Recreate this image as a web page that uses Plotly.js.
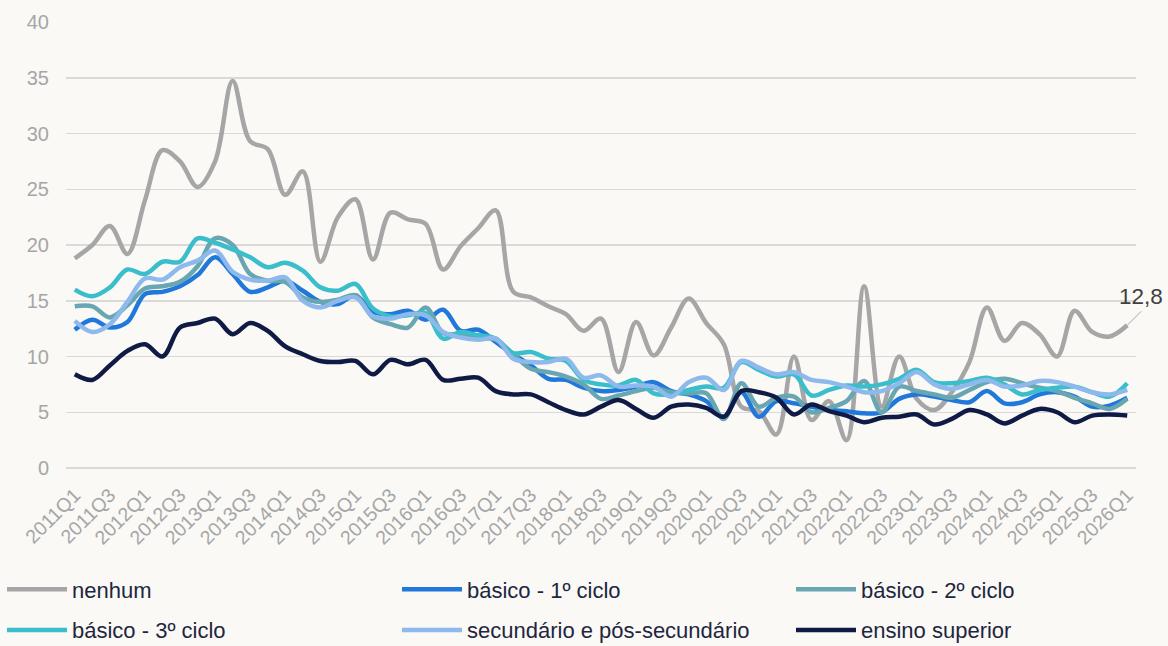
<!DOCTYPE html>
<html>
<head>
<meta charset="utf-8">
<script src="https://cdn.plot.ly/plotly-3.0.1.min.js"></script>
<style>
html,body{margin:0;padding:0;background:#FAF9F6;}
#chart{width:1168px;height:646px;}
</style>
</head>
<body>
<div id="chart"></div>
<script>
// Quarters 2011Q1 .. 2026Q1
const quarters = [];
for (let y = 2011; y <= 2026; y++) {
  for (let q = 1; q <= 4; q++) {
    if (y === 2026 && q > 1) break;
    quarters.push(y + "Q" + q);
  }
}
const tickLabels = quarters.filter((q, i) => i % 2 === 0);

const seriesNames = ["nenhum", "básico - 1º ciclo", "básico - 2º ciclo", "básico - 3º ciclo", "secundário e pós-secundário", "ensino superior"];

const nenhum = [18.8,20.0,21.7,19.2,24.0,28.5,27.5,25.2,27.5,34.7,29.3,28.6,24.5,26.6,18.5,22.5,24.1,18.7,22.9,22.3,21.9,17.8,19.9,21.5,23.1,15.8,15.3,14.5,13.8,12.3,13.4,8.6,13.1,10.1,12.6,15.2,13.0,11.1,5.5,5.1,3.0,10.0,4.3,6.0,2.5,16.3,5.5,10.0,6.2,5.2,6.8,9.5,14.4,11.4,13.0,12.0,10.0,14.1,12.2,11.8,12.8];
const basico1 = [12.4,13.3,12.6,13.1,15.6,15.8,16.3,17.3,18.9,17.4,15.8,16.2,16.8,15.9,14.9,14.7,15.5,14.0,13.8,14.1,13.3,14.2,12.3,12.4,11.3,10.2,9.2,8.0,7.9,7.2,6.9,7.0,7.3,7.7,6.9,6.6,6.0,4.6,6.8,4.6,6.0,5.8,5.5,5.2,5.1,4.9,5.0,6.2,6.6,6.4,6.1,5.9,6.9,5.8,5.9,6.6,6.8,6.4,5.5,5.6,6.3];
const basico2 = [14.5,14.5,13.5,14.6,16.1,16.3,16.7,18.1,20.6,20.0,17.4,16.8,16.7,15.3,14.9,15.1,15.5,13.5,12.9,12.6,14.4,12.1,12.0,11.7,11.5,10.2,8.9,8.6,8.2,7.5,6.2,6.5,6.9,7.2,6.8,6.7,6.7,4.4,7.6,5.5,6.3,6.4,5.0,5.4,6.0,7.8,5.0,7.3,6.9,6.6,6.3,7.0,7.7,8.0,7.6,7.2,6.9,6.3,5.8,5.3,6.2];
const basico3 = [16.0,15.4,16.2,17.8,17.4,18.5,18.5,20.6,20.2,19.6,18.9,18.0,18.4,17.7,16.2,15.9,16.5,14.3,13.6,13.7,13.9,11.6,12.2,11.9,11.6,10.3,10.4,9.8,9.6,7.9,7.5,7.4,7.9,6.7,6.6,7.0,7.3,7.2,9.5,8.8,8.2,8.4,6.5,7.0,7.4,7.3,7.5,8.0,8.8,7.7,7.6,7.8,8.1,7.5,6.6,7.0,7.2,7.3,6.8,6.4,7.6];
const secundario = [13.2,12.2,12.9,14.9,17.0,16.9,18.0,18.6,19.5,17.6,16.9,16.8,17.1,15.0,14.4,15.0,15.3,13.6,13.4,13.8,13.7,12.2,11.7,11.5,11.6,9.8,9.5,9.5,9.8,8.1,8.3,7.3,7.4,7.3,6.4,7.7,8.1,7.0,9.6,9.0,8.4,8.6,7.9,7.7,7.3,6.8,6.9,7.6,8.6,7.5,7.1,7.5,7.9,7.3,7.4,7.8,7.7,7.3,6.8,6.6,7.0];
const superior = [8.4,7.9,9.2,10.5,11.1,10.0,12.6,13.0,13.4,12.0,13.0,12.3,10.9,10.2,9.6,9.5,9.6,8.4,9.7,9.3,9.7,7.9,8.0,8.1,6.9,6.6,6.6,5.9,5.2,4.8,5.5,6.1,5.3,4.5,5.5,5.7,5.4,4.6,6.9,6.8,6.3,4.8,5.7,5.1,4.7,4.1,4.5,4.6,4.8,3.9,4.4,5.2,4.8,4.0,4.7,5.3,5.0,4.1,4.7,4.8,4.7];

const allSeries = [nenhum, basico1, basico2, basico3, secundario, superior];
const colors = ["#A6A6A6", "#1F78DA", "#68A6B1", "#3BBECB", "#8DB9EC", "#0F1B45"];
// legend column for each series (3 columns x 2 rows, as in the reference)
const legendIds = ["legend", "legend2", "legend3", "legend", "legend2", "legend3"];

const traces = allSeries.map((vals, k) => ({
  type: "scatter",
  mode: "lines",
  name: seriesNames[k],
  x: quarters,
  y: vals,
  legend: legendIds[k],
  legendgroup: "g" + k,
  line: {color: colors[k], width: 4.5, shape: "spline", smoothing: 1},
  hoverinfo: "x+y+name"
}));

const lastIdx = quarters.length - 1;

function legendCol(xpx) {
  return {
    orientation: "v",
    xref: "container",
    yref: "container",
    x: xpx / 1168,
    y: 0.12,
    xanchor: "left",
    yanchor: "top",
    font: {size: 22, color: "#1E2640"},
    bgcolor: "rgba(0,0,0,0)",
    tracegroupgap: 9,
    itemwidth: 60
  };
}

const layout = {
  width: 1168,
  height: 646,
  paper_bgcolor: "#FAF9F6",
  plot_bgcolor: "#FAF9F6",
  font: {family: "Liberation Sans, Arial, sans-serif", color: "#A6A6A6"},
  margin: {l: 66, r: 32, t: 22, b: 178, autoexpand: false},
  showlegend: true,
  xaxis: {
    type: "category",
    range: [-0.5, quarters.length - 0.5],
    tickmode: "array",
    tickvals: tickLabels,
    ticktext: tickLabels,
    tickangle: -45,
    tickfont: {size: 19.5, color: "#A6A6A6"},
    ticklabelstandoff: 11,
    showgrid: false,
    showline: false,
    zeroline: false,
    ticks: "",
    automargin: false,
    fixedrange: true
  },
  yaxis: {
    range: [0, 40],
    dtick: 5,
    tick0: 0,
    tickfont: {size: 20, color: "#A6A6A6"},
    showgrid: true,
    gridcolor: "#D9D9D9",
    gridwidth: 1.5,
    zeroline: true,
    zerolinecolor: "#D9D9D9",
    zerolinewidth: 1.5,
    showline: false,
    ticks: "",
    ticklabelstandoff: 16,
    automargin: false,
    fixedrange: true
  },
  legend: legendCol(2),
  legend2: legendCol(397),
  legend3: legendCol(791),
  annotations: [{
    x: quarters[lastIdx],
    y: nenhum[lastIdx],
    xref: "x",
    yref: "y",
    text: String(nenhum[lastIdx]).replace(".", ","),
    showarrow: true,
    arrowhead: 0,
    arrowwidth: 1,
    arrowcolor: "#A6A6A6",
    ax: 14,
    ay: -14,
    font: {size: 22.5, color: "#404040"},
    xanchor: "center",
    yanchor: "bottom"
  }]
};

Plotly.newPlot("chart", traces, layout, {displayModeBar: false, staticPlot: true});
</script>
</body>
</html>
